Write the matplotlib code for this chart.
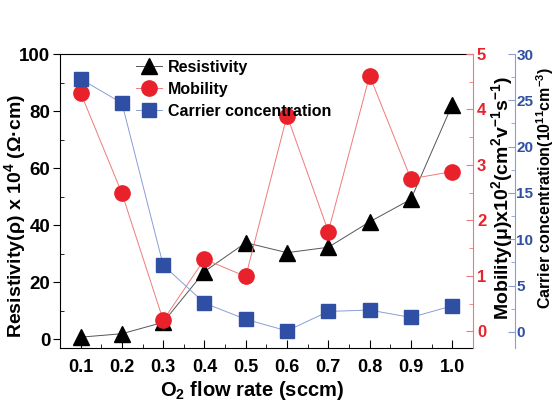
import matplotlib
matplotlib.use("Agg")
import matplotlib.pyplot as plt
from matplotlib.ticker import MultipleLocator

plt.rcParams['font.family'] = ['Liberation Sans', 'DejaVu Sans']
plt.rcParams['font.weight'] = 'bold'
plt.rcParams['mathtext.fontset'] = 'custom'
plt.rcParams['mathtext.rm'] = 'Liberation Sans:bold'
plt.rcParams['mathtext.bf'] = 'Liberation Sans:bold'
plt.rcParams['mathtext.default'] = 'bf'

# datos
flujo = [0.1, 0.2, 0.3, 0.4, 0.5, 0.6, 0.7, 0.8, 0.9, 1.0]
resistividad = [0.8, 2.0, 6.0, 23.8, 33.9, 30.4, 32.3, 41.2, 49.1, 82.2]
movilidad = [4.30, 2.49, 0.20, 1.30, 0.99, 3.89, 1.80, 4.61, 2.75, 2.88]
portadores = [27.3, 24.7, 7.2, 3.1, 1.35, 0.1, 2.2, 2.35, 1.55, 2.8]
ticks_x = [0.1, 0.2, 0.3, 0.4, 0.5, 0.6, 0.7, 0.8, 0.9, 1.0]

negro = "black"
rojo = "#e8212b"
azul = "#2e4fa3"
rojo_claro = "#f07a7a"
azul_claro = "#8a9ed6"

fig = plt.figure(figsize=(5.53, 4.04), dpi=100)
ax = fig.add_axes([0.1085, 0.1386, 0.7465, 0.7277])
ax2 = ax.twinx()
ax3 = ax.twinx()

l1, = ax.plot(flujo, resistividad, color="#555555", lw=0.7, marker="^", ms=11,
              mfc=negro, mec=negro, label="Resistivity")
l2, = ax2.plot(flujo, movilidad, color=rojo_claro, lw=0.7, marker="o", ms=11,
               mfc=rojo, mec=rojo, label="Mobility")
l3, = ax3.plot(flujo, portadores, color=azul_claro, lw=0.7, marker="s", ms=10,
               mfc=azul, mec=azul, label="Carrier concentration")

ax.set_xlim(0.05, 1.05)
ax.set_ylim(-3, 100)
ax2.set_ylim(-0.3, 5)
ax3.set_ylim(-1.75, 30)

ax.set_xticks(ticks_x)
ax.set_xticklabels([f"{t:.1f}" for t in ticks_x])
ax.xaxis.set_minor_locator(MultipleLocator(0.05))
ax.yaxis.set_major_locator(MultipleLocator(20))
ax.yaxis.set_minor_locator(MultipleLocator(10))
ax2.yaxis.set_major_locator(MultipleLocator(1))
ax2.yaxis.set_minor_locator(MultipleLocator(0.5))
ax3.yaxis.set_major_locator(MultipleLocator(5))
ax3.yaxis.set_minor_locator(MultipleLocator(2.5))

ax.tick_params(axis="x", which="both", direction="in", labelsize=13, pad=8)
ax.tick_params(axis="x", which="major", length=6)
ax.tick_params(axis="x", which="minor", length=3)
ax.tick_params(axis="y", which="major", direction="out", length=5, labelsize=13.5, pad=2)
ax.tick_params(axis="y", which="minor", direction="in", length=3)

ax2.spines["right"].set_color(rojo_claro)
ax2.tick_params(axis="y", which="both", direction="in", colors=rojo_claro,
                labelcolor=rojo, labelsize=12, pad=3)
ax2.tick_params(axis="y", which="major", length=5)
ax2.tick_params(axis="y", which="minor", length=3)

ax3.spines["right"].set_position(("axes", 1.102))
ax3.spines["right"].set_color(azul_claro)
ax3.tick_params(axis="y", which="both", direction="in", colors=azul_claro,
                labelcolor=azul, labelsize=11, pad=1)
ax3.tick_params(axis="y", which="major", length=5)
ax3.tick_params(axis="y", which="minor", length=3)

for a in (ax2, ax3):
    a.spines["top"].set_visible(False)
    a.spines["left"].set_visible(False)
    a.spines["bottom"].set_visible(False)
ax.spines["right"].set_visible(False)

ax.set_xlabel("O$_2$ flow rate (sccm)", fontsize=14.5, fontweight="bold")
ax.xaxis.set_label_coords(0.465, -0.105)
ax.set_ylabel("Resistivity(ρ) x 10$^4$ (Ω·cm)", fontsize=14, fontweight="bold")
ax.yaxis.set_label_coords(-0.077, 0.45)
ax2.set_ylabel("Mobility(μ)x10$^2$(cm$^2$v$^{-1}$s$^{-1}$)", fontsize=14,
               fontweight="bold")
ax2.yaxis.set_label_coords(1.04, 0.51)
ax3.set_ylabel("Carrier concentration(10$^{11}$cm$^{-3}$)", fontsize=11.5,
               fontweight="bold")
ax3.yaxis.set_label_coords(1.148, 0.545)

leg = ax3.legend(handles=[l1, l2, l3], loc="upper left", bbox_to_anchor=(0.15, 1.03),
                 frameon=False, handlelength=1.6, handletextpad=0.4,
                 labelspacing=0.45, prop={"weight": "bold", "size": 11.5})

fig.savefig("out.png", dpi=100)
